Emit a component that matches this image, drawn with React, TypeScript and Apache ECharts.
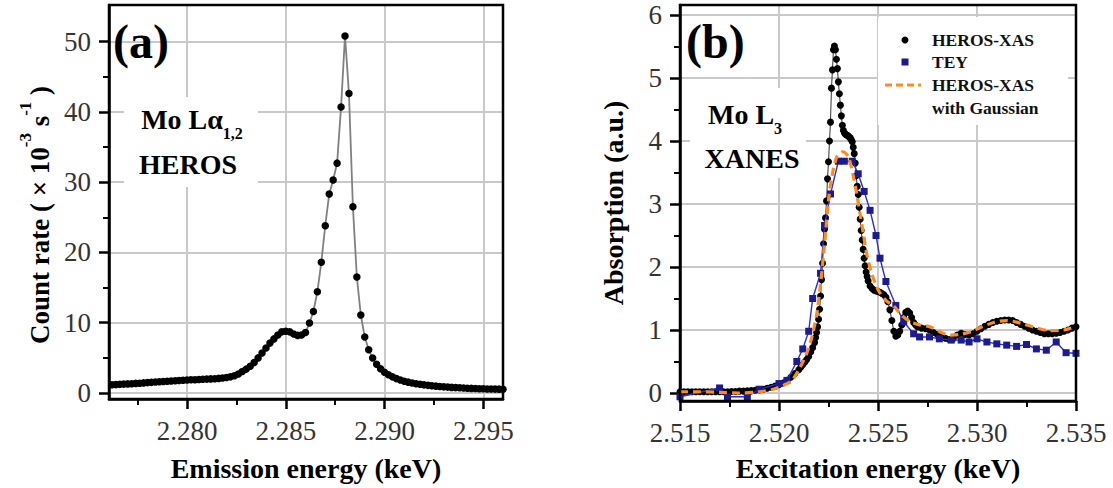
import React, { useEffect, useRef } from "react";
import * as echarts from "echarts";

const SERIF = "'Liberation Serif', 'Times New Roman', serif";

// (a) Mo Lα1,2 emission line measured with HEROS, 0.2 eV grid starting at 2.2760 keV
const emissionStartKeV = 2.276;
const emissionStepKeV = 0.0002;
const emissionCountRate = [
  1.15, 1.18, 1.2, 1.24, 1.27, 1.3, 1.33, 1.37, 1.4, 1.44, 1.48, 1.52, 1.56, 1.6, 1.63, 1.67, 1.7, 1.74, 1.78, 1.82, 1.86,
  1.88, 1.9, 1.92, 1.95, 1.98, 2.01, 2.04, 2.08, 2.13,
  2.2, 2.3, 2.45, 2.7, 3.05, 3.4, 3.8, 4.35, 5.0, 5.7, 6.4, 7.1, 7.7, 8.25, 8.7, 8.8, 8.7, 8.4, 8.2, 8.25, 8.6,
  9.95, 11.6, 14.4, 18.6, 23.8, 28.3, 30.3, 32.7, 40.7, 50.8, 42.6, 26.5, 16.5, 11.1, 7.96, 6.16, 4.98,
  4.1, 3.45, 2.95, 2.6, 2.3, 2.05, 1.85, 1.68, 1.55, 1.43, 1.33, 1.24, 1.16, 1.09, 1.03, 0.98, 0.93, 0.88, 0.84,
  0.8, 0.77, 0.74, 0.71, 0.68, 0.66, 0.64, 0.62, 0.6, 0.58, 0.57, 0.56, 0.55, 0.54,
];

const emissionTicks = [2.28, 2.285, 2.29, 2.295];
const emissionMinorTicks = [2.2775, 2.2825, 2.2875, 2.2925];
const countTicks = [0, 10, 20, 30, 40, 50];
const countMinorTicks = [5, 15, 25, 35, 45];

// (b) Mo L3 XANES, HEROS-XAS recorded on a piecewise energy grid
const herosPreEdge = [
  0.02, 0.02, 0.02, 0.02, 0.02, 0.02, 0.02, 0.02, 0.02, 0.02, 0.02, 0.02, 0.02, 0.025, 0.025,
  0.03, 0.03, 0.035, 0.04, 0.045, 0.05, 0.06, 0.075, 0.09, 0.11, 0.13, 0.16, 0.2, 0.25, 0.31,
]; // 2.5150 .. 2.5208, step 0.2 eV
const herosOnset = [0.37, 0.41, 0.45, 0.49, 0.53, 0.58, 0.65, 0.72]; // 2.5210 .. 2.5217, step 0.1 eV
const herosWhiteLine = [
  0.8, 0.88, 0.96, 1.05, 1.17, 1.33, 1.54, 1.8, 2.06, 2.37,
  2.6, 2.78, 3.05, 3.4, 3.67, 4.0, 4.3, 4.84, 5.13, 5.45,
  5.51, 5.45, 5.3, 5.15, 4.94, 4.75, 4.57, 4.4, 4.25, 4.17,
  4.13, 4.11, 4.1, 4.09, 4.08, 4.06, 4.05, 4.02, 3.99, 3.9,
  3.8, 3.65, 3.45, 3.28, 3.15, 2.95, 2.76, 2.58, 2.43, 2.28,
  2.14, 2.02, 1.92, 1.85,
]; // 2.52180 .. 2.52445, step 0.05 eV
const herosPostEdge = [
  1.78, 1.7, 1.66, 1.63, 1.62, 1.61, 1.6, 1.58, 1.56, 1.52, 1.45, 1.32, 1.15,
  0.98, 0.9, 0.92, 0.98, 1.08, 1.2, 1.28, 1.3, 1.27, 1.2, 1.12, 1.08,
]; // 2.5245 .. 2.5269, step 0.1 eV
const herosExafs = [
  1.05, 1.03, 1.02, 1.0, 0.96, 0.93, 0.9, 0.87, 0.85, 0.86, 0.92, 0.95, 0.93, 0.92, 0.94,
  0.98, 1.02, 1.06, 1.09, 1.12, 1.14, 1.15, 1.16, 1.16, 1.15, 1.12, 1.09, 1.06, 1.03, 1.0,
  0.98, 0.96, 0.94, 0.94, 0.94, 0.95, 0.96, 0.98, 1.0, 1.03, 1.05,
]; // 2.5270 .. 2.5350, step 0.2 eV

const teyEnergy = [
  2.515, 2.517, 2.5174, 2.5184, 2.519, 2.52, 2.5204, 2.5209, 2.5212, 2.5215, 2.5217, 2.5221, 2.5223, 2.5226,
  2.523, 2.5233, 2.5237, 2.524, 2.5243, 2.5246, 2.5249, 2.5251, 2.5254, 2.5259, 2.5263, 2.5268, 2.5271,
  2.5276, 2.5281, 2.5287, 2.5292, 2.5296, 2.53, 2.5305, 2.531, 2.5315, 2.532, 2.5325, 2.533, 2.5335,
  2.534, 2.5345, 2.535,
];
const teyAbsorption = [
  -0.06, 0.08, -0.06, -0.06, 0.06, 0.15, 0.2, 0.5, 0.7, 0.98, 1.5, 1.9, 2.66, 3.16,
  3.68, 3.68, 3.68, 3.48, 3.2, 2.9, 2.5, 2.14, 1.77, 1.39, 1.13, 0.94, 0.89,
  0.89, 0.86, 0.84, 0.84, 0.81, 0.86, 0.81, 0.78, 0.76, 0.74, 0.77, 0.7, 0.68,
  0.81, 0.64, 0.63,
];

const gaussEnergy = [
  2.515, 2.516, 2.517, 2.518, 2.519, 2.5197, 2.5202, 2.52065, 2.52107, 2.5214, 2.52166, 2.52191, 2.52208,
  2.52224, 2.52238, 2.5225, 2.52267, 2.52292, 2.52322, 2.5235, 2.52372, 2.52392, 2.52409, 2.52426, 2.52443,
  2.52468, 2.52502, 2.5254, 2.5258, 2.52612, 2.52663, 2.52713, 2.52764, 2.52814, 2.52865, 2.52916, 2.52966,
  2.53017, 2.53084, 2.53152, 2.53219, 2.53303, 2.53371, 2.53438, 2.535,
];
const gaussAbsorption = [
  0.02, 0.02, 0.01, 0.0, 0.02, 0.06, 0.12, 0.2, 0.41, 0.63, 0.89, 1.26, 1.68,
  2.16, 2.64, 3.06, 3.43, 3.75, 3.83, 3.75, 3.49, 3.17, 2.85, 2.53, 2.21,
  1.9, 1.63, 1.47, 1.38, 1.26, 1.13, 1.08, 1.05, 0.97, 0.92, 0.93, 0.97,
  1.04, 1.12, 1.15, 1.11, 1.03, 0.99, 1.0, 1.06,
];

const excitationTicks = [2.515, 2.52, 2.525, 2.53, 2.535];
const excitationMinorTicks = [2.5175, 2.5225, 2.5275, 2.5325];
const absorptionTicks = [0, 1, 2, 3, 4, 5, 6];
const absorptionMinorTicks = [0.5, 1.5, 2.5, 3.5, 4.5, 5.5];

const onGrid = (start: number, step: number, values: number[]) =>
  values.map((v, i) => [Number((start + i * step).toFixed(6)), v]);
const zipPairs = (xs: number[], ys: number[]) => xs.map((x, i) => [x, ys[i]]);

const tickLabelStyle = { fontFamily: SERIF, fontSize: 27, color: "#333" };
const titleStyle = { fontFamily: SERIF, fontSize: 28, fontWeight: "bold" as const, color: "#000" };

function majorAxis(
  gridIndex: number,
  position: "bottom" | "left",
  min: number,
  max: number,
  ticks: number[],
  fmt: (v: number) => string,
  extra: Record<string, unknown> = {}
) {
  return {
    type: "value",
    gridIndex,
    position,
    min,
    max,
    axisLine: { show: true, onZero: false, lineStyle: { color: "#000", width: 2.5 } },
    axisTick: { show: true, inside: false, length: 10, customValues: ticks, lineStyle: { color: "#000", width: 2.5 } },
    axisLabel: { customValues: ticks, formatter: fmt, margin: 18, ...tickLabelStyle },
    splitLine: { show: true, lineStyle: { color: "#c9c9c9", width: 2 } },
    minorTick: { show: false },
    minorSplitLine: { show: false },
    ...extra,
  };
}

function minorAxis(gridIndex: number, position: "bottom" | "left", min: number, max: number, ticks: number[]) {
  return {
    type: "value",
    gridIndex,
    position,
    min,
    max,
    axisLine: { show: false, onZero: false },
    axisTick: { show: true, inside: false, length: 6, customValues: ticks, lineStyle: { color: "#000", width: 2 } },
    axisLabel: { show: false },
    splitLine: { show: false },
  };
}

function buildOption() {
  const emissionData = onGrid(emissionStartKeV, emissionStepKeV, emissionCountRate);
  const herosData = [
    ...onGrid(2.515, 0.0002, herosPreEdge),
    ...onGrid(2.521, 0.0001, herosOnset),
    ...onGrid(2.5218, 0.00005, herosWhiteLine),
    ...onGrid(2.5245, 0.0001, herosPostEdge),
    ...onGrid(2.527, 0.0002, herosExafs),
  ];
  const teyData = zipPairs(teyEnergy, teyAbsorption);
  const gaussData = zipPairs(gaussEnergy, gaussAbsorption);

  const f3 = (v: number) => v.toFixed(3);
  const f0 = (v: number) => String(Math.round(v));

  const labelText = (x: number, y: number, text: string, extra: Record<string, unknown> = {}) => ({
    type: "text",
    x,
    y,
    z: 20,
    style: {
      text,
      fill: "#000",
      font: `bold 28px ${SERIF}`,
      fontFamily: SERIF,
      fontSize: 28,
      fontWeight: "bold",
      align: "center",
      verticalAlign: "middle",
      textAlign: "center",
      textVerticalAlign: "middle",
      ...extra,
    },
  });

  const subRich = {
    m: { fontFamily: SERIF, fontSize: 28, fontWeight: "bold", fill: "#000", padding: [0, 0, 8, 0], verticalAlign: "bottom" },
    s: { fontFamily: SERIF, fontSize: 16, fontWeight: "bold", fill: "#000", verticalAlign: "bottom" },
  };

  const legendText = (y: number, text: string) => ({
    type: "text",
    x: 932,
    y,
    z: 20,
    style: {
      text,
      fill: "#111",
      fontFamily: SERIF,
      fontSize: 17.5,
      fontWeight: "bold",
      align: "left",
      verticalAlign: "middle",
      textAlign: "left",
      textVerticalAlign: "middle",
    },
  });

  return {
    animation: false,
    backgroundColor: "#fff",
    grid: [
      { left: 109, top: 5, width: 394, height: 394, outerBoundsMode: "none", containLabel: false },
      { left: 680, top: 5, width: 396, height: 396, outerBoundsMode: "none", containLabel: false },
    ],
    xAxis: [
      majorAxis(0, "bottom", 2.27605, 2.296, emissionTicks, f3, {
        name: "Emission energy (keV)",
        nameLocation: "middle",
        nameGap: 55,
        nameTextStyle: titleStyle,
      }),
      minorAxis(0, "bottom", 2.27605, 2.296, emissionMinorTicks),
      majorAxis(1, "bottom", 2.515, 2.535, excitationTicks, f3, {
        name: "Excitation energy (keV)",
        nameLocation: "middle",
        nameGap: 53,
        nameTextStyle: titleStyle,
      }),
      minorAxis(1, "bottom", 2.515, 2.535, excitationMinorTicks),
    ],
    yAxis: [
      majorAxis(0, "left", -0.85, 55.2, countTicks, f0),
      minorAxis(0, "left", -0.85, 55.2, countMinorTicks),
      majorAxis(1, "left", -0.127, 6.16, absorptionTicks, f0, {
        name: "Absorption (a.u.)",
        nameLocation: "middle",
        nameGap: 53,
        nameRotate: 90,
        nameTextStyle: titleStyle,
      }),
      minorAxis(1, "left", -0.127, 6.16, absorptionMinorTicks),
    ],
    series: [
      {
        name: "HEROS",
        type: "line",
        xAxisIndex: 0,
        yAxisIndex: 0,
        data: emissionData,
        symbol: "circle",
        symbolSize: 7.5,
        showSymbol: true,
        showAllSymbol: true,
        itemStyle: { color: "#000" },
        lineStyle: { color: "#808080", width: 1.8 },
        emphasis: { disabled: true },
        z: 3,
      },
      {
        name: "HEROS-XAS",
        type: "line",
        xAxisIndex: 2,
        yAxisIndex: 2,
        data: herosData,
        symbol: "circle",
        symbolSize: 7,
        showSymbol: true,
        showAllSymbol: true,
        itemStyle: { color: "#000" },
        lineStyle: { color: "#333", width: 1 },
        emphasis: { disabled: true },
        z: 3,
      },
      {
        name: "TEY",
        type: "line",
        xAxisIndex: 2,
        yAxisIndex: 2,
        data: teyData,
        symbol: "rect",
        symbolSize: 7,
        showSymbol: true,
        showAllSymbol: true,
        itemStyle: { color: "#1b1b8f" },
        lineStyle: { color: "#2a2af0", width: 1.4 },
        emphasis: { disabled: true },
        z: 4,
      },
      {
        name: "HEROS-XAS with Gaussian",
        type: "line",
        xAxisIndex: 2,
        yAxisIndex: 2,
        data: gaussData,
        symbol: "none",
        smooth: 0.3,
        lineStyle: { color: "#ff8c1a", width: 3.2, type: [8, 5] },
        emphasis: { disabled: true },
        z: 5,
      },
    ],
    graphic: [
      // white boxes behind the in-plot annotations
      { type: "rect", z: 15, shape: { x: 124, y: 97, width: 134, height: 90 }, style: { fill: "#fff" } },
      { type: "rect", z: 15, shape: { x: 690, y: 88, width: 116, height: 90 }, style: { fill: "#fff" } },
      { type: "rect", z: 15, shape: { x: 878, y: 17, width: 190, height: 108 }, style: { fill: "#fff" } },

      // panel frames
      { type: "rect", z: 30, shape: { x: 109, y: 5, width: 394, height: 394 }, style: { fill: "none", stroke: "#000", lineWidth: 2.5 } },
      { type: "rect", z: 30, shape: { x: 680, y: 5, width: 396, height: 396 }, style: { fill: "none", stroke: "#000", lineWidth: 2.5 } },

      // panel tags
      labelText(113, 41, "(a)", { fontSize: 48, font: `bold 48px ${SERIF}`, align: "left", textAlign: "left" }),
      labelText(686, 41, "(b)", { fontSize: 48, font: `bold 48px ${SERIF}`, align: "left", textAlign: "left" }),

      // annotations
      labelText(192, 123, "{m|Mo Lα}{s|1,2}", { rich: subRich }),
      labelText(188, 164, "HEROS"),
      labelText(745, 118, "{m|Mo L}{s|3}", { rich: subRich }),
      labelText(752, 158, "XANES"),

      // y-axis title of panel (a)
      {
        type: "text",
        x: 35,
        y: 215,
        rotation: Math.PI / 2,
        z: 20,
        style: {
          text: "{t|Count rate ( × 10}{p|-3}{t| s}{p|-1}{t| )}",
          align: "center",
          verticalAlign: "middle",
          textAlign: "center",
          textVerticalAlign: "middle",
          rich: {
            t: { fontFamily: SERIF, fontSize: 27, fontWeight: "bold", fill: "#000", padding: [9, 0, 0, 0], verticalAlign: "bottom" },
            p: { fontFamily: SERIF, fontSize: 17, fontWeight: "bold", fill: "#000", verticalAlign: "top" },
          },
        },
      },

      // legend of panel (b)
      { type: "circle", z: 20, shape: { cx: 905, cy: 40, r: 3.5 }, style: { fill: "#000" } },
      { type: "rect", z: 20, shape: { x: 901.5, y: 58.5, width: 7, height: 7 }, style: { fill: "#1b1b8f" } },
      {
        type: "line",
        z: 20,
        shape: { x1: 885, y1: 85, x2: 921, y2: 85 },
        style: { stroke: "#ff8c1a", lineWidth: 3, lineDash: [7, 4] },
      },
      legendText(40, "HEROS-XAS"),
      legendText(62, "TEY"),
      legendText(85, "HEROS-XAS"),
      legendText(108, "with Gaussian"),
    ],
  };
}

export default function App() {
  const ref = useRef<HTMLDivElement>(null);

  useEffect(() => {
    if (!ref.current) return;
    const chart = echarts.init(ref.current, null, { renderer: "svg" });
    chart.setOption(buildOption() as any);
    return () => chart.dispose();
  }, []);

  return (
    <div
      ref={ref}
      style={{ position: "fixed", left: 0, top: 0, width: 1113, height: 488, background: "#fff" }}
    />
  );
}
